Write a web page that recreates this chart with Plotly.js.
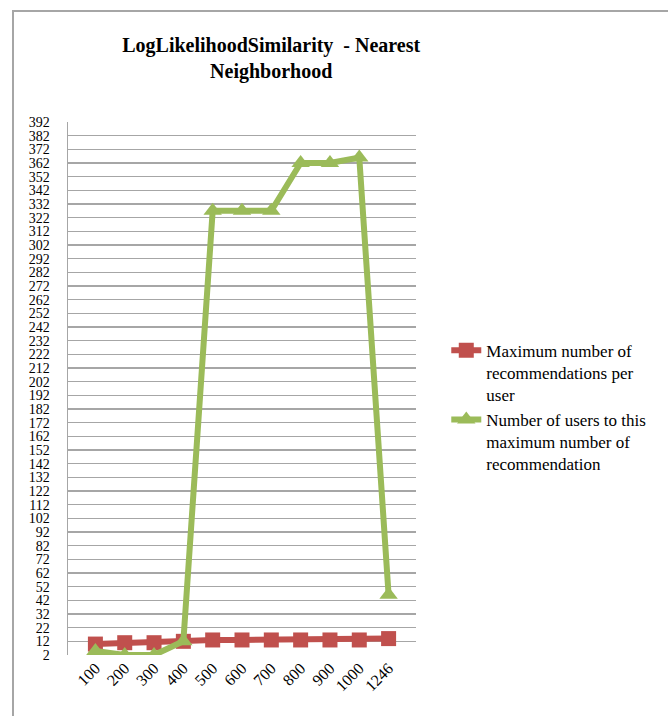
<!DOCTYPE html>
<html><head><meta charset="utf-8">
<script src="https://cdn.plot.ly/plotly-3.0.1.min.js"></script>
<style>
body{margin:0;padding:0;background:#fff;}
#frame{position:absolute;left:12px;top:10px;width:700px;height:720px;border:2px solid #a6a6a6;pointer-events:none;z-index:5;}
#chart{position:absolute;left:0;top:0;width:668px;height:716px;}
</style>
</head><body>
<div id="chart"></div><div id="frame"></div>
<script>
const categories = ["100","200","300","400","500","600","700","800","900","1000","1246"];
const maxRecs = [10, 11, 11, 12, 13, 13, 13, 13, 13, 13, 14];
const numUsers = [5, 2, 2, 12, 327, 327, 327, 362, 362, 366, 46];
const yTicks = [];
for (let v = 2; v <= 392; v += 10) yTicks.push(v);
const seriesNames = ["Maximum number of<br>recommendations per<br>user",
                     "Number of users to this<br>maximum number of<br>recommendation"];

const serif = "Liberation Serif, DejaVu Serif, serif";
const traces = [
  {x: categories, y: maxRecs, type: "scatter", mode: "lines+markers", name: seriesNames[0],
   line: {color: "#c0504d", width: 6}, marker: {symbol: "square", size: 15, color: "#c0504d"}},
  {x: categories, y: numUsers, type: "scatter", mode: "lines+markers", name: seriesNames[1],
   line: {color: "#9bbb59", width: 6}, marker: {symbol: "triangle-up", size: 16, color: "#9bbb59"}}
];
const layout = {
  width: 668, height: 716,
  margin: {l: 68, r: 252, t: 122, b: 61},
  paper_bgcolor: "#ffffff", plot_bgcolor: "#ffffff",
  title: {text: "<b>LogLikelihoodSimilarity  - Nearest<br>Neighborhood</b>",
          font: {family: serif, size: 20, color: "#000"}, x: 0.406, xanchor: "center", y: 0.927, yanchor: "top"},
  xaxis: {type: "category", tickangle: -45, showgrid: false, zeroline: false,
          showline: false, ticks: "", tickfont: {family: serif, size: 16, color: "#000"}},
  yaxis: {range: [2, 392], tickvals: yTicks, ticktext: yTicks.map(String),
          showgrid: true, gridcolor: "#a6a6a6", gridwidth: 1.5, zeroline: false,
          showline: true, linecolor: "#a6a6a6", linewidth: 1.5, ticks: "", ticklabelstandoff: 14,
          tickfont: {family: serif, size: 14, color: "#000"}},
  showlegend: true,
  legend: {x: 1.087, xanchor: "left", y: 0.465, yanchor: "middle", valign: "top",
           font: {family: serif, size: 17, color: "#000"}, bgcolor: "rgba(0,0,0,0)"}
};
Plotly.newPlot("chart", traces, layout, {displayModeBar: false, staticPlot: true});
</script>
</body></html>
